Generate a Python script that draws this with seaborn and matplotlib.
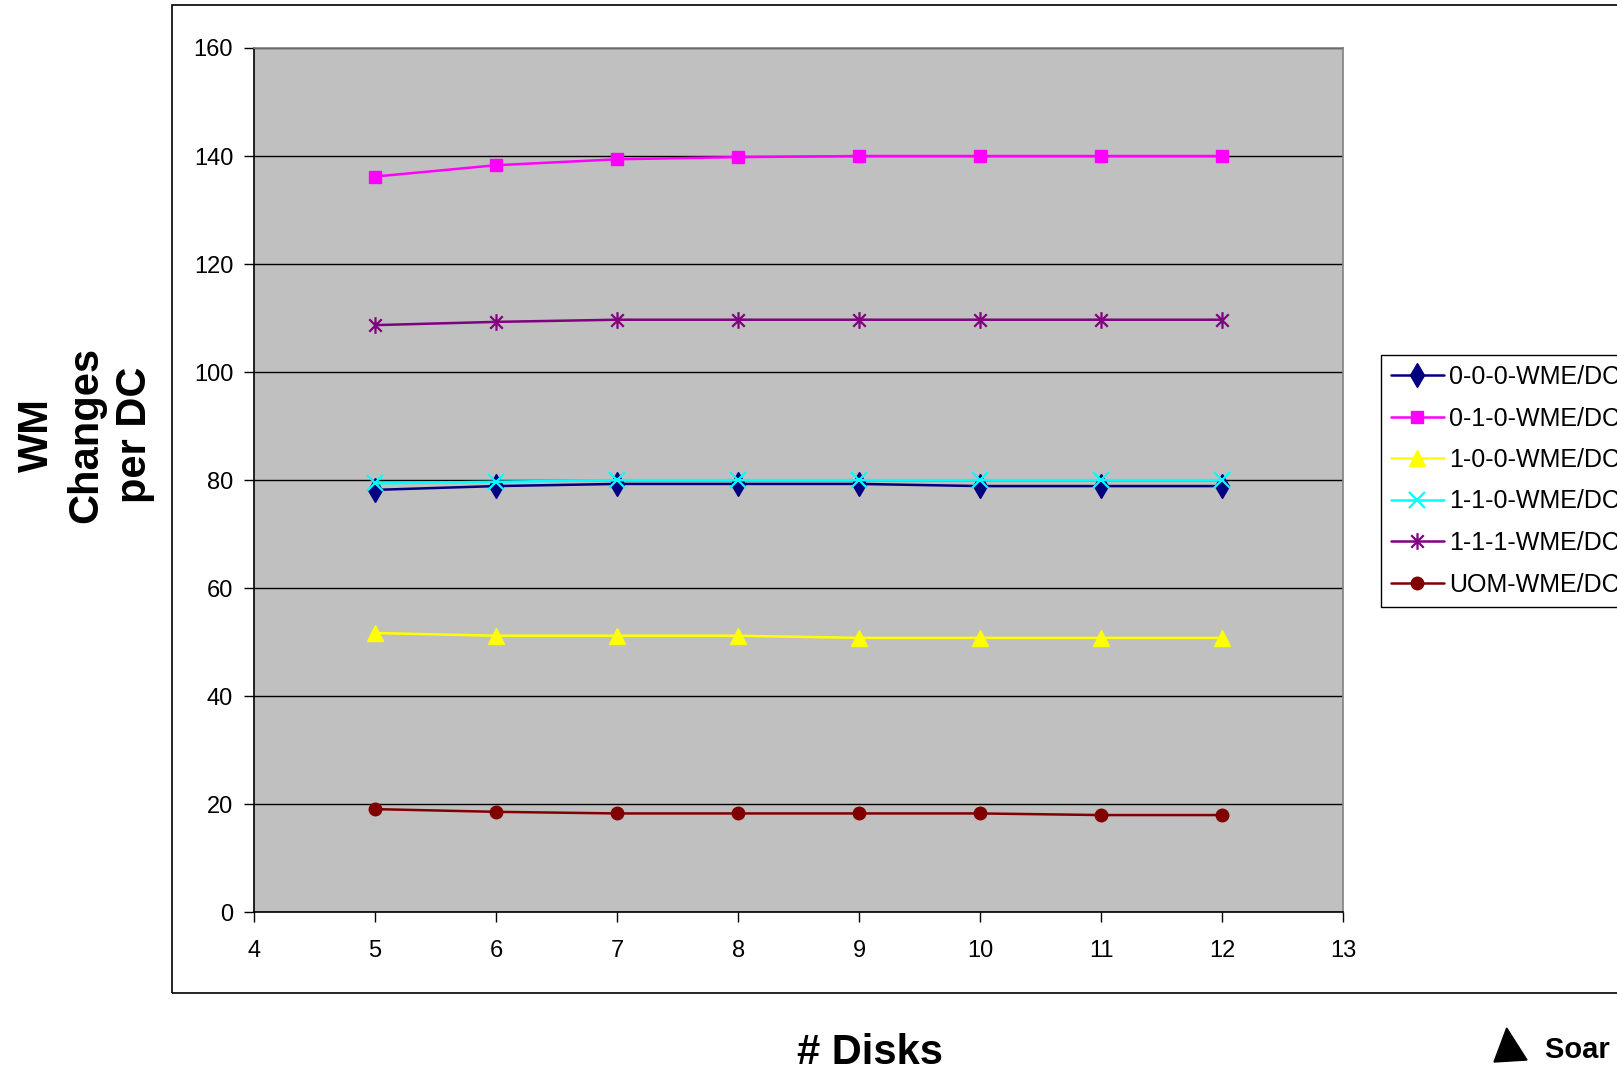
import matplotlib
matplotlib.use("Agg")
import matplotlib.pyplot as plt
import matplotlib.patches as mpatches
from matplotlib.path import Path
import numpy as np
import pandas as pd
import seaborn as sns

# ---- data ----
disks = [5, 6, 7, 8, 9, 10, 11, 12]
s_000 = [78.2, 78.9, 79.3, 79.3, 79.3, 78.9, 78.9, 78.9]
s_010 = [136.2, 138.3, 139.4, 139.8, 140.0, 140.0, 140.0, 140.0]
s_100 = [51.7, 51.2, 51.2, 51.2, 50.8, 50.8, 50.8, 50.8]
s_110 = [79.4, 79.7, 80.0, 80.0, 80.0, 80.0, 80.0, 80.0]
s_111 = [108.7, 109.3, 109.7, 109.7, 109.7, 109.7, 109.7, 109.7]
s_uom = [19.1, 18.6, 18.3, 18.3, 18.3, 18.3, 18.0, 18.0]
series_names = ["0-0-0-WME/DC", "0-1-0-WME/DC", "1-0-0-WME/DC",
                "1-1-0-WME/DC", "1-1-1-WME/DC", "UOM-WME/DC"]
series_values = [s_000, s_010, s_100, s_110, s_111, s_uom]
x_ticks = [4, 5, 6, 7, 8, 9, 10, 11, 12, 13]
y_ticks = [0, 20, 40, 60, 80, 100, 120, 140, 160]

sns.set_theme(style="white")
plt.rcParams["font.family"] = ["Liberation Sans", "DejaVu Sans"]
plt.rcParams["text.color"] = "black"
plt.rcParams["axes.labelcolor"] = "black"
plt.rcParams["xtick.color"] = "black"
plt.rcParams["ytick.color"] = "black"

W, H = 1617, 1072
fig = plt.figure(figsize=(W / 100, H / 100), dpi=100)
fig.patch.set_facecolor("white")

left, right, top, bottom = 254, 1343.3, 48, 912.3
ax = fig.add_axes([left / W, 1 - bottom / H, (right - left) / W, (bottom - top) / H])
ax.set_facecolor("#C0C0C0")

asterisk = Path(
    [(0, -1), (0, 1), (-0.75, -0.75), (0.75, 0.75), (-0.75, 0.75), (0.75, -0.75)],
    [Path.MOVETO, Path.LINETO, Path.MOVETO, Path.LINETO, Path.MOVETO, Path.LINETO],
)

styles = [
    dict(color="#000080", marker="d", ms=12, mew=1),
    dict(color="#FF00FF", marker="s", ms=9, mew=1),
    dict(color="#FFFF00", marker="^", ms=11, mew=1),
    dict(color="#00FFFF", marker="x", ms=11, mew=1.6),
    dict(color="#800080", marker=asterisk, ms=12, mew=1.6),
    dict(color="#800000", marker="o", ms=9, mew=1),
]

for name, vals, st in zip(series_names, series_values, styles):
    df = pd.DataFrame({"disks": disks, "val": vals})
    sns.lineplot(data=df, x="disks", y="val", ax=ax, color=st["color"],
                 marker=st["marker"], markersize=st["ms"],
                 markeredgecolor=st["color"], markerfacecolor=st["color"],
                 markeredgewidth=st["mew"], linewidth=1.8, label=name,
                 legend=False)

ax.set_xlim(4, 13)
ax.set_ylim(0, 160)
ax.set_xticks(x_ticks)
ax.set_yticks(y_ticks)
ax.yaxis.grid(True, color="black", linewidth=1)
ax.xaxis.grid(False)
ax.set_axisbelow(True)
ax.set_xlabel("")
ax.set_ylabel("")

for s in ["left", "bottom"]:
    ax.spines[s].set_color("black")
    ax.spines[s].set_linewidth(1.2)
for s in ["top", "right"]:
    ax.spines[s].set_color("#808080")
    ax.spines[s].set_linewidth(1.2)

ax.tick_params(axis="both", direction="out", length=7, width=1, color="black",
               labelsize=17, labelcolor="black")
ax.tick_params(axis="x", pad=13, bottom=True)
ax.tick_params(axis="y", pad=8, left=True)

handles, labels = ax.get_legend_handles_labels()
leg = ax.legend(handles, labels, loc="upper left",
                bbox_to_anchor=(1381 / W, 1 - 355 / H), bbox_transform=fig.transFigure,
                borderaxespad=0, fontsize=18, frameon=True, fancybox=False,
                edgecolor="black", framealpha=1, facecolor="white",
                handlelength=2.1, handletextpad=0.22, labelspacing=0.7,
                borderpad=0.4)
leg.get_frame().set_linewidth(1)
for t in leg.get_texts():
    t.set_color("black")

# axis titles
fig.text(870 / W, 1 - 1064 / H, "# Disks", ha="center", va="baseline",
         fontsize=30, fontweight="bold", color="black")
fig.text(86 / W, 1 - 435 / H, "WM\nChanges\nper DC", rotation=90,
         ha="center", va="center", multialignment="center",
         fontsize=30, fontweight="bold", linespacing=1.28, color="black")

# chart area border
fig.patches.append(mpatches.Rectangle((172 / W, 1 - 993 / H), 1.0, (993 - 5) / H,
                                      transform=fig.transFigure, fill=False,
                                      edgecolor="black", linewidth=1.2))

# logo
fig.patches.append(mpatches.Polygon([(1506.7 / W, 1 - 1028 / H), (1494 / W, 1 - 1062 / H),
                                     (1527 / W, 1 - 1060 / H)], closed=True,
                                    transform=fig.transFigure, facecolor="black",
                                    edgecolor="black"))
fig.text(1545 / W, 1 - 1036 / H, "Soar T", ha="left", va="top",
         fontsize=21, fontweight="bold", color="black")

fig.savefig("out.png", dpi=100)
